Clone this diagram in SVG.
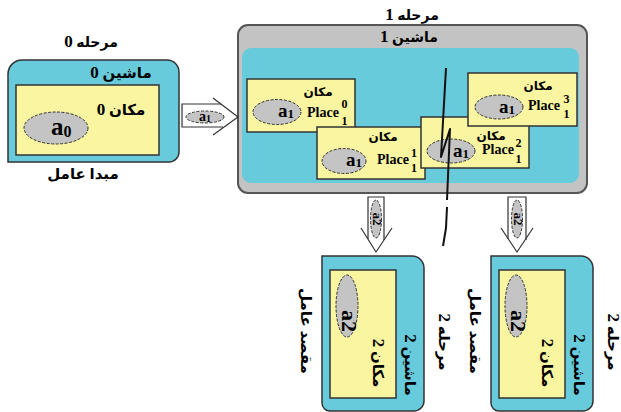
<svg xmlns="http://www.w3.org/2000/svg" width="621" height="412" viewBox="0 0 621 412">
<defs><style>
.cy{fill:#67CBDC;stroke:#333;stroke-width:1.5}
.yl{fill:#FAF5A0;stroke:#333;stroke-width:1.5}
.el{fill:#C4C4C4;stroke:#333;stroke-width:1;stroke-dasharray:3 1.5}
.t{font-family:"Liberation Serif","DejaVu Sans",serif;font-weight:bold;fill:#000}
.d{font-size:17px}
.conn{fill:none;stroke:#333;stroke-width:1.2}
.cut{fill:none;stroke:#111;stroke-width:2;stroke-linejoin:round}
</style></defs>
<rect width="621" height="412" fill="#fff"/>

<g id="stage0">
<text class="t" x="91" y="47" text-anchor="middle" font-size="14">مرحله <tspan class="d">0</tspan></text>
<path class="cy" d="M8,162 V74 A14,14 0 0 1 22,60 H167 A12,12 0 0 1 179,72 V152 A10,10 0 0 1 169,162 Z"/>
<text class="t" x="121" y="78" text-anchor="middle" font-size="15">ماشين <tspan class="d">0</tspan></text>
<rect class="yl" x="16" y="85" width="143" height="70"/>
<text class="t" x="121" y="115" text-anchor="middle" font-size="15">مكان <tspan class="d">0</tspan></text>
<ellipse class="el" cx="56" cy="128" rx="32" ry="16"/>
<text class="t" x="51" y="135" font-size="25">a<tspan font-size="16" dy="2">0</tspan></text>
<text class="t" x="83" y="179" text-anchor="middle" font-size="15">مبدا عامل</text>
</g>

<g id="stage1">
<text class="t" x="412" y="20" text-anchor="middle" font-size="14">مرحله <tspan class="d">1</tspan></text>
<rect x="238" y="25" width="349" height="168" rx="10" fill="#C3C3C3" stroke="#555" stroke-width="2"/>
<text class="t" x="409" y="42" text-anchor="middle" font-size="14">ماشين <tspan class="d">1</tspan></text>
<rect x="242" y="48" width="337" height="135" rx="9" fill="#67CBDC"/>
</g>

<g id="place0">
<rect class="yl" x="247" y="79" width="108" height="53"/>
<text class="t" x="318" y="96" text-anchor="middle" font-size="12">مكان</text>
<ellipse class="el" cx="277" cy="112" rx="24" ry="12.5"/>
<text class="t" x="278" y="117" font-size="19">a<tspan font-size="13" dy="1">1</tspan></text>
<text class="t" x="307" y="117" font-size="14" textLength="32" lengthAdjust="spacingAndGlyphs">Place</text>
<text class="t" x="344.5" y="108" text-anchor="middle" font-size="12">0</text>
<text class="t" x="344.5" y="125" text-anchor="middle" font-size="12">1</text>
</g>

<g id="place1">
<rect class="yl" x="317" y="127" width="108" height="52"/>
<text class="t" x="383" y="141" text-anchor="middle" font-size="12">مكان</text>
<ellipse class="el" cx="344" cy="161" rx="22" ry="12.5"/>
<text class="t" x="346" y="166" font-size="19">a<tspan font-size="13" dy="1">1</tspan></text>
<text class="t" x="377" y="164" font-size="14" textLength="32" lengthAdjust="spacingAndGlyphs">Place</text>
<text class="t" x="414" y="157" text-anchor="middle" font-size="12">1</text>
<text class="t" x="414" y="172" text-anchor="middle" font-size="12">1</text>
</g>

<g id="place2">
<rect class="yl" x="421" y="117" width="108" height="51"/>
<text class="t" x="491" y="140" text-anchor="middle" font-size="12">مكان</text>
<ellipse class="el" cx="451" cy="151" rx="24" ry="12"/>
<text class="t" x="453" y="157" font-size="19">a<tspan font-size="13" dy="1">1</tspan></text>
<text class="t" x="482" y="154" font-size="14" textLength="32" lengthAdjust="spacingAndGlyphs">Place</text>
<text class="t" x="518.5" y="147" text-anchor="middle" font-size="12">2</text>
<text class="t" x="518.5" y="163" text-anchor="middle" font-size="12">1</text>
</g>

<g id="place3">
<rect class="yl" x="468" y="73" width="109" height="53"/>
<text class="t" x="538" y="90" text-anchor="middle" font-size="12">مكان</text>
<ellipse class="el" cx="499" cy="107" rx="24" ry="12"/>
<text class="t" x="499" y="113" font-size="19">a<tspan font-size="13" dy="1">1</tspan></text>
<text class="t" x="528" y="110" font-size="14" textLength="32" lengthAdjust="spacingAndGlyphs">Place</text>
<text class="t" x="566.5" y="103" text-anchor="middle" font-size="12">3</text>
<text class="t" x="566.5" y="118" text-anchor="middle" font-size="12">1</text>
</g>

<g id="stage2a">
<path class="cy" d="M322,256 H412 A12,12 0 0 1 424,268 V401 A10,10 0 0 1 414,411 H330 A8,8 0 0 1 322,403 Z"/>
<rect class="yl" x="330" y="270" width="66" height="128"/>
<ellipse class="el" cx="347" cy="306" rx="11" ry="31"/>
<text class="t" transform="rotate(90 347 321)" x="347" y="326.5" text-anchor="middle" font-size="22">a2</text>
<text class="t" transform="rotate(90 377 363)" x="377" y="367.5" text-anchor="middle" font-size="15">مكان <tspan class="d">2</tspan></text>
<text class="t" transform="rotate(90 409 365)" x="409" y="369.5" text-anchor="middle" font-size="15">ماشين <tspan class="d">2</tspan></text>
<text class="t" transform="rotate(90 443 342)" x="443" y="346.5" text-anchor="middle" font-size="15">مرحله <tspan class="d">2</tspan></text>
<text class="t" transform="rotate(90 305 331)" x="305" y="335.5" text-anchor="middle" font-size="15">مقصد عامل</text>
</g>

<g id="stage2b" transform="translate(169 0)">
<path class="cy" d="M322,256 H412 A12,12 0 0 1 424,268 V401 A10,10 0 0 1 414,411 H330 A8,8 0 0 1 322,403 Z"/>
<rect class="yl" x="330" y="270" width="66" height="128"/>
<ellipse class="el" cx="347" cy="306" rx="11" ry="31"/>
<text class="t" transform="rotate(90 347 321)" x="347" y="326.5" text-anchor="middle" font-size="22">a2</text>
<text class="t" transform="rotate(90 377 363)" x="377" y="367.5" text-anchor="middle" font-size="15">مكان <tspan class="d">2</tspan></text>
<text class="t" transform="rotate(90 409 365)" x="409" y="369.5" text-anchor="middle" font-size="15">ماشين <tspan class="d">2</tspan></text>
<text class="t" transform="rotate(90 443 342)" x="443" y="346.5" text-anchor="middle" font-size="15">مرحله <tspan class="d">2</tspan></text>
<text class="t" transform="rotate(90 305 331)" x="305" y="335.5" text-anchor="middle" font-size="15">مقصد عامل</text>
</g>

<g id="connectors">
<g id="arrow-a1">
<path class="conn" d="M221,104 H182 V127 H223"/>
<path class="conn" d="M213,98 L238,117 L213,135"/>
<ellipse class="el" cx="205" cy="117" rx="19" ry="6"/>
<text class="t" x="205" y="121" text-anchor="middle" font-size="14">a<tspan font-size="10" dy="1">1</tspan></text>
</g>
<g id="arrow-a2-left">
<path class="conn" d="M368,239 V197 H384 V240"/>
<path class="conn" d="M361,228 L376,252 L392,228"/>
<ellipse class="el" cx="376" cy="219" rx="5.5" ry="19"/>
<text class="t" transform="rotate(90 376 219)" x="376" y="222.5" text-anchor="middle" font-size="13">a2</text>
</g>
<g id="arrow-a2-right">
<path class="conn" d="M508,239 V197 H526 V240"/>
<path class="conn" d="M501,228 L517,252 L533,228"/>
<ellipse class="el" cx="517" cy="219" rx="5.5" ry="19"/>
<text class="t" transform="rotate(90 517 219)" x="517" y="222.5" text-anchor="middle" font-size="13">a2</text>
</g>
</g>

<g id="cut-line">
<path class="cut" d="M446,68 L441,157 L450,129 L447,200"/>
<path class="cut" d="M447,207 L446,228 L443,246"/>
</g>
</svg>
